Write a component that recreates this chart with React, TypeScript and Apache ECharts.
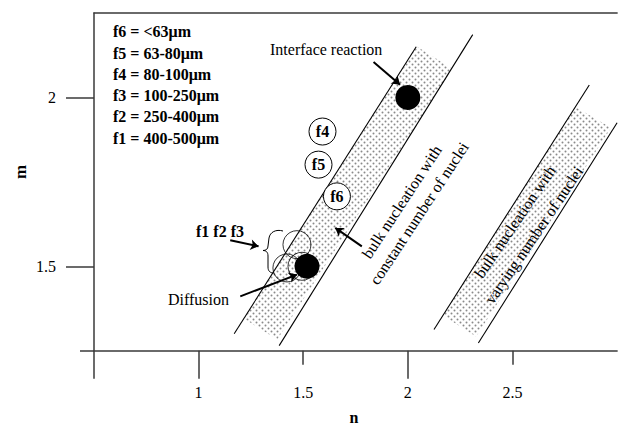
import React, { useEffect, useRef } from 'react';
import * as echarts from 'echarts';

// ---- data (n, m) ----
const constantLeft = [[1.17, 1.30], [2.04, 2.15]];
const constantRight = [[1.385, 1.265], [2.31, 2.186]];
const varyingLeft = [[2.125, 1.313], [2.867, 2.037]];
const varyingRight = [[2.337, 1.273], [3.0, 1.925]];
const constantBand = [[1.217, 1.345], [1.376, 1.283], [2.2125, 2.085], [2.043, 2.151]];
const varyingBand = [[2.167, 1.354], [2.326, 1.292], [2.971, 1.91], [2.799, 1.9725]];
const mechanismPoints = [
  { name: 'Interface reaction', value: [2.0, 2.0] },
  { name: 'Diffusion', value: [1.518, 1.5] },
];
const coarseFractions = [
  { name: 'f3', value: [1.47, 1.564] },
  { name: 'f2', value: [1.422, 1.495] },
  { name: 'f1', value: [1.494, 1.5] },
];
const fineFractions = [
  { name: 'f4', value: [1.592, 1.899] },
  { name: 'f5', value: [1.573, 1.801] },
  { name: 'f6', value: [1.661, 1.707] },
];
const arrows = [
  [[1.836, 2.105], [1.963, 2.0376]],
  [[1.151, 1.577], [1.2865, 1.559]],
  [[1.199, 1.411], [1.47, 1.4754]],
  [[1.78, 1.559], [1.653, 1.6136]],
];
const xTickLabels = [1, 1.5, 2, 2.5];
const xLongTicks = [0.5, 1, 2];
const xShortTicks = [1.5, 2.5];
const yTickLabels = [1.5, 2];
const yShortTicks = [1.25];
const fractionLegend = [
  'f6 = <63μm',
  'f5 = 63-80μm',
  'f4 = 80-100μm',
  'f3 = 100-250μm',
  'f2 = 250-400μm',
  'f1 = 400-500μm',
];
const bands = [constantBand, varyingBand];

const FONT = '"Liberation Serif", "Times New Roman", serif';
const AXIS_COLOR = '#3a3a3a';

function makePattern() {
  const c = document.createElement('canvas');
  c.width = 6;
  c.height = 6;
  const ctx = c.getContext('2d');
  if (ctx) {
    ctx.fillStyle = '#8a8a8a';
    ctx.beginPath();
    ctx.arc(1.5, 1.5, 1.0, 0, Math.PI * 2);
    ctx.fill();
    ctx.beginPath();
    ctx.arc(4.5, 4.5, 1.0, 0, Math.PI * 2);
    ctx.fill();
  }
  return { image: c, repeat: 'repeat' };
}

export default function App() {
  const ref = useRef<HTMLDivElement>(null);
  useEffect(() => {
    if (!ref.current) return;
    const chart = echarts.init(ref.current, undefined, { renderer: 'svg' });
    const pattern = makePattern();
    const rotA = (56.7 * Math.PI) / 180;
    const rotB = (55.8 * Math.PI) / 180;
    const txt = (text: string, x: number, y: number, extra: any = {}) => ({
      type: 'text',
      x,
      y,
      style: {
        text,
        fontFamily: FONT,
        fontSize: 16,
        fill: '#000',
        align: 'left',
        verticalAlign: 'middle',
        ...(extra.style || {}),
      },
      rotation: extra.rotation || 0,
      z: 10,
    });
    const lineSeries = (data: number[][]) => ({
      type: 'line',
      data,
      symbol: 'none',
      lineStyle: { color: '#000', width: 1.1 },
      z: 3,
      silent: true,
    });
    const option: any = {
      animation: false,
      grid: { left: 94, right: 1.9, top: 13, bottom: 76.3, containLabel: false },
      xAxis: [
        {
          type: 'value', min: 0.5, max: 3, position: 'bottom',
          axisLine: { show: true, onZero: false, lineStyle: { color: AXIS_COLOR, width: 1.5 } },
          axisTick: { show: true, customValues: xLongTicks, length: 28, lineStyle: { color: AXIS_COLOR, width: 1.5 } },
          axisLabel: {
            show: true, customValues: xTickLabels, margin: 34,
            fontFamily: FONT, fontSize: 16, color: '#000',
            formatter: (v: number) => String(v),
          },
          splitLine: { show: false },
        },
        {
          type: 'value', min: 0.5, max: 3, position: 'bottom',
          axisLine: { show: false, onZero: false },
          axisTick: { show: true, customValues: xShortTicks, length: 14, lineStyle: { color: AXIS_COLOR, width: 1.5 } },
          axisLabel: { show: false },
          splitLine: { show: false },
        },
        {
          type: 'value', min: 0.5, max: 3, position: 'top',
          axisLine: { show: true, onZero: false, lineStyle: { color: AXIS_COLOR, width: 1.5 } },
          axisTick: { show: false },
          axisLabel: { show: false },
          splitLine: { show: false },
        },
      ],
      yAxis: [
        {
          type: 'value', min: 1.25, max: 2.25, position: 'left',
          axisLine: { show: true, onZero: false, lineStyle: { color: AXIS_COLOR, width: 1.5 } },
          axisTick: { show: true, customValues: yTickLabels, length: 28, lineStyle: { color: AXIS_COLOR, width: 1.5 } },
          axisLabel: {
            show: true, customValues: yTickLabels, margin: 38,
            fontFamily: FONT, fontSize: 16, color: '#000',
            formatter: (v: number) => String(v),
          },
          splitLine: { show: false },
        },
        {
          type: 'value', min: 1.25, max: 2.25, position: 'left',
          axisLine: { show: false, onZero: false },
          axisTick: { show: true, customValues: yShortTicks, length: 14, lineStyle: { color: AXIS_COLOR, width: 1.5 } },
          axisLabel: { show: false },
          splitLine: { show: false },
        },
      ],
      series: [
        {
          type: 'custom',
          data: bands.map((b) => ({ value: [b[0][0], b[0][1]] })),
          renderItem: (params: any, api: any) => {
            const pts = bands[params.dataIndex].map((p) => api.coord(p));
            return {
              type: 'polygon',
              shape: { points: pts },
              style: { fill: pattern as any, stroke: 'none' },
            };
          },
          z: 1,
          silent: true,
        },
        lineSeries(constantLeft),
        lineSeries(constantRight),
        lineSeries(varyingLeft),
        lineSeries(varyingRight),
        {
          type: 'scatter',
          data: coarseFractions,
          symbol: 'circle',
          symbolSize: 28,
          itemStyle: { color: 'rgba(0,0,0,0)', borderColor: '#000', borderWidth: 0.8, opacity: 1 },
          z: 4,
          silent: true,
        },
        {
          type: 'scatter',
          data: fineFractions,
          symbol: 'circle',
          symbolSize: 27,
          itemStyle: { color: '#fff', borderColor: '#000', borderWidth: 1, opacity: 1 },
          label: {
            show: true, position: 'inside', formatter: '{b}',
            fontFamily: FONT, fontSize: 16, fontWeight: 'bold', color: '#000',
          },
          z: 4,
          silent: true,
        },
        {
          type: 'scatter',
          data: mechanismPoints,
          symbol: 'circle',
          symbolSize: 25,
          itemStyle: { color: '#000', opacity: 1 },
          z: 5,
          silent: true,
        },
        {
          type: 'lines',
          coordinateSystem: 'cartesian2d',
          data: arrows.map((c) => ({ coords: c })),
          symbol: ['none', 'arrow'],
          symbolSize: 8,
          lineStyle: { color: '#000', width: 2, opacity: 1, curveness: 0 },
          z: 6,
          silent: true,
        },
      ],
      graphic: [
        ...fractionLegend.map((t, i) =>
          txt(t, 113, 31.7 + i * 21.3, { style: { fontWeight: 'bold' } })
        ),
        txt('Interface reaction', 270, 49),
        txt('Diffusion', 168, 299),
        txt('f1 f2 f3', 220, 231, { style: { fontWeight: 'bold', align: 'center' } }),
        txt('bulk nucleation with', 401.7, 201.7, { rotation: rotA, style: { align: 'center' } }),
        txt('constant number of nuclei', 419.2, 213.3, { rotation: rotA, style: { align: 'center' } }),
        txt('bulk nucleation with', 515, 221.7, { rotation: rotB, style: { align: 'center' } }),
        txt('varying number of nuclei', 534, 235, { rotation: rotB, style: { align: 'center' } }),
        txt('n', 354, 417, { style: { fontWeight: 'bold', align: 'center', fontSize: 16 } }),
        txt('m', 20, 172, { rotation: Math.PI / 2, style: { fontWeight: 'bold', align: 'center', fontSize: 17 } }),
        // curly brace
        {
          type: 'group',
          z: 10,
          children: [
            { type: 'bezierCurve', shape: { x1: 283, y1: 231, cpx1: 276, cpy1: 229, cpx2: 270, cpy2: 232, x2: 269, y2: 238 }, style: { stroke: '#000', lineWidth: 1, fill: 'none' } },
            { type: 'line', shape: { x1: 269, y1: 238, x2: 268, y2: 246 }, style: { stroke: '#000', lineWidth: 1 } },
            { type: 'bezierCurve', shape: { x1: 268, y1: 246, cpx1: 268, cpy1: 249, cpx2: 266, cpy2: 250.5, x2: 263, y2: 250.5 }, style: { stroke: '#000', lineWidth: 1, fill: 'none' } },
            { type: 'bezierCurve', shape: { x1: 263, y1: 250.5, cpx1: 266, cpy1: 250.5, cpx2: 268, cpy2: 252, x2: 268, y2: 256 }, style: { stroke: '#000', lineWidth: 1, fill: 'none' } },
            { type: 'line', shape: { x1: 268, y1: 256, x2: 268, y2: 267 }, style: { stroke: '#000', lineWidth: 1 } },
            { type: 'bezierCurve', shape: { x1: 268, y1: 267, cpx1: 268, cpy1: 271, cpx2: 270, cpy2: 273, x2: 274, y2: 273 }, style: { stroke: '#000', lineWidth: 1, fill: 'none' } },
          ],
        },
      ],
    };
    chart.setOption(option);
    return () => chart.dispose();
  }, []);
  return (
    <div
      ref={ref}
      style={{ position: 'fixed', left: 0, top: 0, width: 619, height: 427, background: '#fff' }}
    />
  );
}
